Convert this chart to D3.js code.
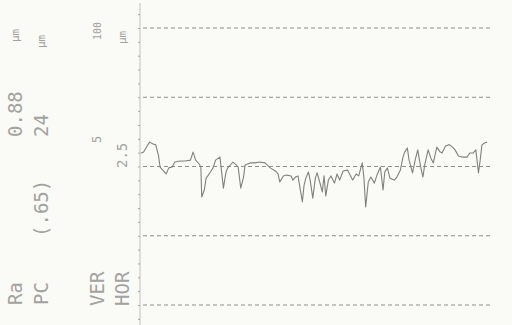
<!DOCTYPE html>
<html>
<head>
<meta charset="utf-8">
<script src="https://cdn.jsdelivr.net/npm/d3@7"></script>
<style>
  html, body { margin: 0; padding: 0; background: #fafaf6; }
  svg { display: block; }
</style>
</head>
<body>
<div id="chart"></div>
<script>
// evaluation position (mm) and profile height (um)
const profX = [0.00, 0.03, 0.07, 0.10, 0.14, 0.17, 0.20, 0.22, 0.25, 0.29, 0.32, 0.36, 0.39, 0.45, 0.51, 0.57,
  0.60, 0.63, 0.67, 0.69, 0.70, 0.73, 0.75, 0.77, 0.80, 0.83, 0.86, 0.91, 0.95, 0.98, 1.00, 1.04, 1.06, 1.10,
  1.12, 1.15, 1.18, 1.20, 1.26, 1.31, 1.37, 1.43, 1.49, 1.55, 1.58, 1.60, 1.64, 1.68, 1.73, 1.75, 1.78, 1.81,
  1.86, 1.88, 1.90, 1.93, 1.95, 1.98, 2.01, 2.03, 2.06, 2.09, 2.11, 2.13, 2.16, 2.19, 2.23, 2.26, 2.29, 2.33,
  2.38, 2.41, 2.44, 2.48, 2.51, 2.55, 2.57, 2.59, 2.62, 2.65, 2.69, 2.72, 2.76, 2.79, 2.81, 2.84, 2.87, 2.92,
  2.95, 2.99, 3.02, 3.04, 3.07, 3.09, 3.13, 3.16, 3.19, 3.22, 3.25, 3.27, 3.31, 3.34, 3.37, 3.39, 3.41, 3.45,
  3.47, 3.51, 3.54, 3.56, 3.60, 3.62, 3.66, 3.70, 3.76, 3.79, 3.83, 3.86, 3.89, 3.91, 3.93, 3.96, 3.99];
const profZ = [0.49, 0.52, 0.74, 0.88, 0.81, 0.78, 0.42, -0.02, -0.13, -0.27, -0.05, -0.02, 0.16, 0.20, 0.20, 0.23,
  0.52, 0.23, 0.09, -0.02, -1.10, -0.85, -0.42, -0.34, -0.20, -0.05, 0.23, 0.34, -0.78, -0.20, -0.05, 0.09, 0.16, 0.05,
  -0.02, -0.78, -0.42, 0.05, 0.13, 0.13, 0.16, 0.13, -0.05, -0.16, -0.27, -0.56, -0.34, -0.31, -0.34, -0.49, -0.38, -0.34,
  -1.28, -0.67, -0.42, -0.20, -0.49, -1.14, -0.42, -0.23, -0.56, -0.92, -0.34, -1.06, -0.49, -0.34, -0.60, -0.27, -0.49, -0.16,
  -0.13, -0.31, -0.49, -0.27, -0.34, 0.13, -0.42, -1.46, -0.56, -0.38, -0.60, -0.31, -0.02, -0.85, -0.20, -0.05, -0.42, -0.49,
  -0.38, -0.13, 0.34, 0.52, 0.67, 0.23, -0.23, 0.23, 0.60, 0.05, -0.38, 0.05, 0.60, 0.31, 0.13, 0.42, 0.70, 0.52,
  0.49, 0.74, 0.78, 0.78, 0.67, 0.60, 0.38, 0.34, 0.34, 0.49, 0.49, 0.60, -0.23, 0.23, 0.78, 0.85, 0.88];

const gridZ = [-5, -2.5, 0, 2.5, 5];
const axisTicks = d3.range(-5.5, 5.51, 0.5);

// printed parameter columns (bottom label, values further up)
const colLabels = [
  {col: 0, text: "Ra", at: 305, size: 19},
  {col: 0, text: "0.88", at: 137, size: 19},
  {col: 0, text: "μm", at: 42, size: 11},
  {col: 1, text: "PC", at: 305, size: 19},
  {col: 1, text: "(.65)", at: 237, size: 19},
  {col: 1, text: "24", at: 137, size: 19},
  {col: 1, text: "μm", at: 48, size: 11},
  {col: 2, text: "VER", at: 306, size: 19},
  {col: 2, text: "5", at: 143, size: 12},
  {col: 2, text: "100", at: 40, size: 10},
  {col: 3, text: "HOR", at: 306, size: 19},
  {col: 3, text: "2.5", at: 168, size: 14},
  {col: 3, text: "μm", at: 44, size: 11}
];
const colX = [15, 41, 97, 122];

const width = 512, height = 325;
const margin = {top: 28, right: 24, bottom: 20, left: 141};

const svg = d3.select("#chart").append("svg")
  .attr("width", width)
  .attr("height", height);

const x = d3.scaleLinear().domain([0, 4]).range([margin.left, 488]);
const y = d3.scaleLinear().domain([-5, 5]).range([305, 28]);

// dashed reference lines
svg.append("g")
  .selectAll("line")
  .data(gridZ)
  .join("line")
  .attr("x1", x(0) + 2)
  .attr("x2", x(4) + 2)
  .attr("y1", d => y(d))
  .attr("y2", d => y(d))
  .attr("stroke", "#8e8e8a")
  .attr("stroke-width", 1)
  .attr("stroke-dasharray", "4,3");

// vertical scale with small ticks
svg.append("g")
  .attr("transform", `translate(${margin.left - 1},0)`)
  .call(d3.axisLeft(y).tickValues(axisTicks).tickSize(2).tickFormat(""))
  .call(g => g.select(".domain").attr("stroke", "#c0c0bc").attr("d", `M0,${y(5.9)}V${y(-5.9)}`))
  .call(g => g.selectAll(".tick line").attr("stroke", "#a8a8a4"));

// profile trace
const line = d3.line()
  .x((d, i) => x(profX[i]))
  .y(d => y(d));

svg.append("path")
  .datum(profZ)
  .attr("fill", "none")
  .attr("stroke", "#80807c")
  .attr("stroke-width", 1.1)
  .attr("stroke-linejoin", "round")
  .attr("d", line);

// rotated printout text
svg.append("g")
  .attr("font-family", "'DejaVu Sans Mono', monospace")
  .attr("fill", "#a2a29e")
  .selectAll("text")
  .data(colLabels)
  .join("text")
  .attr("transform", d => `translate(${colX[d.col]},${d.at}) rotate(-90)`)
  .attr("dominant-baseline", "central")
  .attr("font-size", d => d.size)
  .text(d => d.text);
</script>
</body>
</html>
